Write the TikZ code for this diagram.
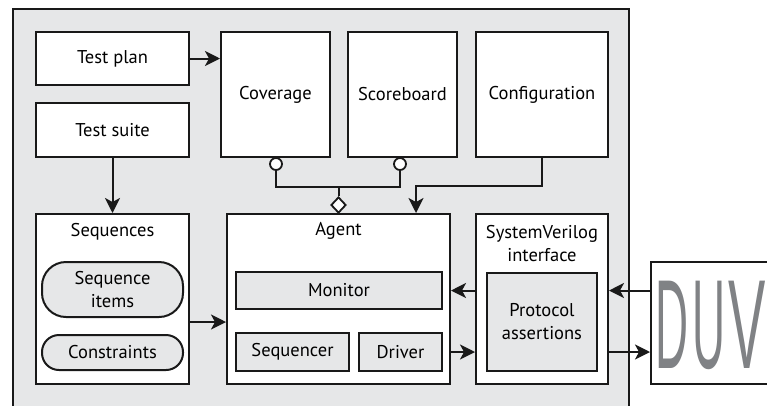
\documentclass[tikz,border=0pt]{standalone}
\usepackage{fontspec}
\setmainfont{PT Sans}
\newfontfamily\duvfont{Liberation Sans}
\usetikzlibrary{arrows.meta,shapes.geometric}
\definecolor{bg}{HTML}{E6E7E8}
\definecolor{duvgray}{HTML}{808285}
\begin{document}
\begin{tikzpicture}[x=1pt,y=-1pt,
  lbl/.style={font=\fontsize{18.5}{23}\selectfont, align=center, inner sep=0pt},
  box/.style={draw=black!90, line width=2pt, fill=white, inner sep=0pt, align=center, font=\fontsize{18.5}{23}\selectfont},
  gbox/.style={box, fill=bg},
  pill/.style={gbox, rounded corners=#1},
  arr/.style={line width=2pt, draw=black!90, -{Stealth[length=15pt,width=15pt,inset=4pt]}},
  ln/.style={line width=2pt, draw=black!90},
  port/.style={circle, draw=black!90, line width=1.8pt, fill=white, minimum size=12pt, inner sep=0pt},
  agg/.style={diamond, draw=black!90, line width=1.8pt, fill=white, minimum width=15pt, minimum height=16pt, inner sep=0pt}
]
\clip (0,0) rectangle (767,405);
\fill[white] (0,0) rectangle (767,405);
\draw[line width=2pt, draw=black!90, fill=bg] (13,9) rectangle (629,430);

% top row
\node[box, minimum width=153pt, minimum height=53pt] (plan) at (112.5,58.5) {Test plan};
\node[box, minimum width=153pt, minimum height=54pt] (suite) at (112.5,130) {Test suite};
\node[box, minimum width=109pt, minimum height=125pt] (cov) at (275.5,94.5) {Coverage};
\node[box, minimum width=109pt, minimum height=125pt] (score) at (402.5,94.5) {Scoreboard};
\node[box, minimum width=132pt, minimum height=125pt] (cfg) at (542,94.5) {Configuration};

% sequences
\node[box, minimum width=153pt, minimum height=170pt] (seq) at (112.5,299) {};
\node[lbl] (seqt) at (112.5,232) {Sequences};
\node[pill=24pt, minimum width=141pt, minimum height=55pt] (items) at (112.5,289.5) {Sequence\\items};
\node[pill=17pt, minimum width=141pt, minimum height=35pt] (cons) at (112.5,352.5) {Constraints};

% agent
\node[box, minimum width=223pt, minimum height=170pt] (agent) at (338.5,299) {};
\node[lbl] (agentt) at (338.5,231) {Agent};
\node[gbox, minimum width=206pt, minimum height=37pt] (mon) at (339,290.5) {Monitor};
\node[gbox, minimum width=113pt, minimum height=38pt] (sqr) at (292.5,352) {Sequencer};
\node[gbox, minimum width=83pt, minimum height=38pt] (drv) at (400.5,352) {Driver};

% SV interface
\node[box, minimum width=132pt, minimum height=170pt] (sv) at (542,299) {};
\node[lbl] (svt) at (542,243.5) {SystemVerilog\\interface};
\node[gbox, minimum width=110pt, minimum height=98pt] (prot) at (542,322) {Protocol\\assertions};

% DUV
\node[box, minimum width=160pt, minimum height=122pt] (duv) at (731,323) {};
\node[anchor=base west, inner sep=0pt, text=duvgray, font=\duvfont\fontsize{127}{127}\selectfont] (duvt) at (655,368) {\scalebox{0.36}[1]{D}\hspace{4pt}\scalebox{0.36}[1]{U}\hspace{3pt}\scalebox{0.44}[1]{V}};

% connectors
\draw[arr] (plan.east) -- (plan.east -| cov.west);
\draw[arr] (suite.south) -- (seq.north);
\draw[arr] ([yshift=-23pt]seq.east) -- ([yshift=-23pt]seq.east -| agent.west);
\draw[arr] (mon -| sv.west) -- (mon -| agent.east);
\draw[arr] (drv -| agent.east) -- (drv -| sv.west);
\draw[arr] (mon -| duv.west) -- (mon -| sv.east);
\draw[arr] (drv -| sv.east) -- (drv -| duv.west);

\node[port] (c1) at ([yshift=-6pt,xshift=0.5pt]cov.south) {};
\node[port] (c2) at ([yshift=-6pt,xshift=-2.5pt]score.south) {};
\node[agg] (dia) at ([yshift=8pt]agent.north) {};
\draw[ln] (c1.south) -- ++(0,16) coordinate (j1) -| (c2.south);
\draw[ln] (dia.north) -- (dia.north |- j1);
\draw[arr] (cfg.south) -- ++(0,28) -| ([xshift=77.5pt]agent.north);
\end{tikzpicture}
\end{document}
